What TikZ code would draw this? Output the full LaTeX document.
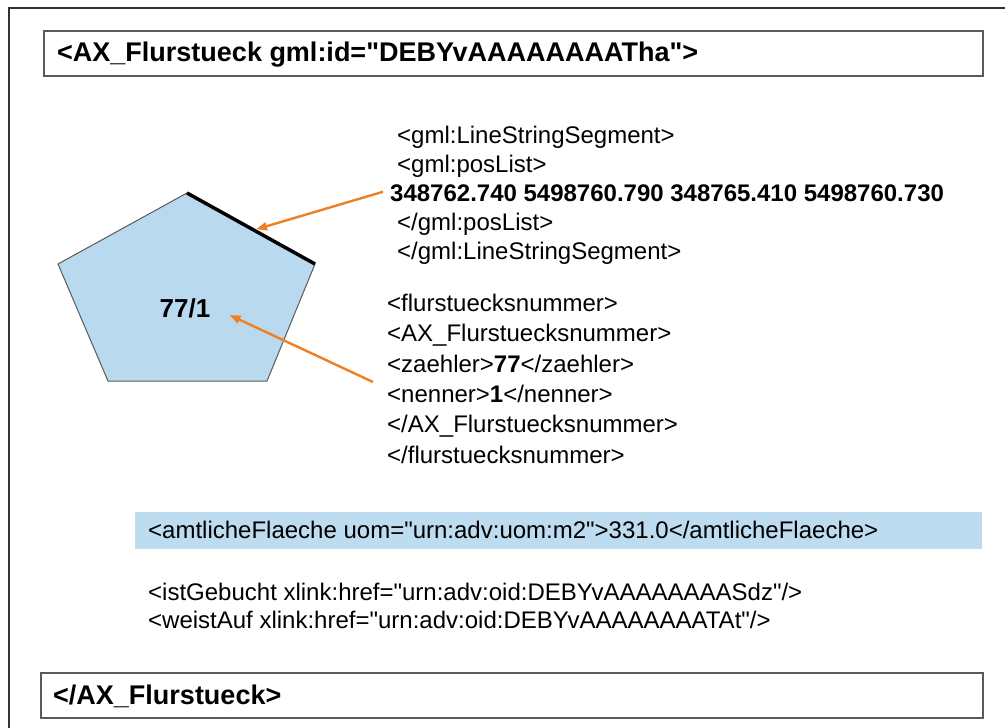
\documentclass[tikz,border=0pt]{standalone}
\usepackage{fontspec}
\setmainfont{Liberation Sans}
\usetikzlibrary{arrows.meta,calc}
\definecolor{parcel}{HTML}{B9DAEE}
\definecolor{barblue}{HTML}{BDDCF0}
\definecolor{arroworange}{HTML}{EE7F22}
\definecolor{framegray}{HTML}{5A5A5A}
\definecolor{outergray}{HTML}{333333}
\newcommand{\sq}{\textquotedbl}
\begin{document}
\begin{tikzpicture}[x=1pt,y=-1pt,
  body/.style={anchor=base west, inner sep=0pt, font=\fontsize{24}{29}\selectfont},
  bodybold/.style={body, font=\fontsize{24}{29}\selectfont\bfseries},
  head/.style={anchor=base west, inner sep=0pt, font=\fontsize{27}{32}\selectfont\bfseries},
  tagbox/.style={draw=framegray, line width=1.5pt, fill=white, anchor=north west, inner sep=0pt},
  pointer/.style={draw=arroworange, line width=2.4pt, -{Triangle[length=11pt,width=8pt]}}]
\useasboundingbox (0,0) rectangle (1005,728);
\fill[white] (0,0) rectangle (1005,728);
% outer frame (cropped at right and bottom)
\coordinate (fa) at (9,728);
\coordinate (fb) at (9,8);
\coordinate (fc) at (1005,8);
\draw[outergray, line width=1.5pt] (fa) -- (fb) -- (fc);

% opening tag box
\node[tagbox, minimum width=939pt, minimum height=45pt] (openbox) at (43,30) {};
\node[head] (opentag) at (57,61) {<AX\_Flurstueck gml:id=\sq DEBYvAAAAAAAATha\sq>};

% closing tag box
\node[tagbox, minimum width=942pt, minimum height=45pt] (closebox) at (40,672) {};
\node[head] (closetag) at (53,704) {</AX\_Flurstueck>};

% parcel pentagon
\coordinate (p1) at (187,193);
\coordinate (p2) at (315,264);
\coordinate (p3) at (267,381);
\coordinate (p4) at (108,381);
\coordinate (p5) at (58,264);
\draw[fill=parcel, draw=framegray, line width=1pt, line join=miter] (p1) -- (p2) -- (p3) -- (p4) -- (p5) -- cycle;
\draw[black, line width=3.5pt] (p1) -- (p2);
\coordinate (edgept) at ($(p1)!0.54!(p2)+(0,-2)$);
\node[font=\fontsize{26}{30}\selectfont\bfseries, inner sep=0pt] (num) at (185,308) {77/1};
\coordinate (tip2) at ($(num.east)+(19,7)$);

% line string block
\node[body] (ls1) at (397,143) {<gml:LineStringSegment>};
\node[body] (ls2) at (397,172) {<gml:posList>};
\node[bodybold] (coords) at (390,201) {348762.740 5498760.790 348765.410 5498760.730};
\node[body] (ls4) at (397,230) {</gml:posList>};
\node[body] (ls5) at (397,259) {</gml:LineStringSegment>};

% number block
\node[body] (fn1) at (387,311) {<flurstuecksnummer>};
\node[body] (fn2) at (387,341) {<AX\_Flurstuecksnummer>};
\node[body] (fn3) at (387,372) {<zaehler>\textbf{77}</zaehler>};
\node[body] (fn4) at (387,402) {<nenner>\textbf{1}</nenner>};
\node[body] (fn5) at (387,432) {</AX\_Flurstuecksnummer>};
\node[body] (fn6) at (387,463) {</flurstuecksnummer>};
\coordinate (tail2) at ($(fn3.base west)+(-14,10)$);

% area bar
\node[fill=barblue, minimum width=847pt, minimum height=37pt, anchor=north west, inner sep=0pt] (bar) at (135,512) {};
\node[body] (area) at (148,538) {<amtlicheFlaeche uom=\sq urn:adv:uom:m2\sq>331.0</amtlicheFlaeche>};

% references
\node[body] (ref1) at (148,600) {<istGebucht xlink:href=\sq urn:adv:oid:DEBYvAAAAAAAASdz\sq/>};
\node[body] (ref2) at (148,628) {<weistAuf xlink:href=\sq urn:adv:oid:DEBYvAAAAAAAATAt\sq/>};

% arrows
\draw[pointer] ([xshift=-7pt,yshift=1pt]coords.west) -- (edgept);
\draw[pointer] (tail2) -- (tip2);
\end{tikzpicture}
\end{document}
